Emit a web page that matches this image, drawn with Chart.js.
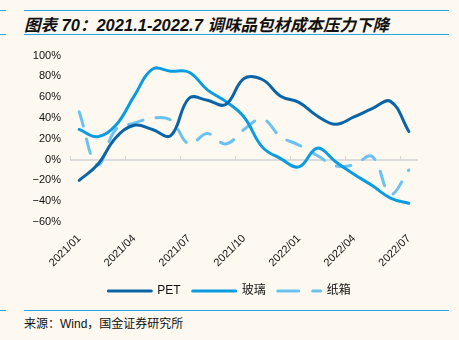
<!DOCTYPE html>
<html>
<head>
<meta charset="utf-8">
<script src="https://cdn.jsdelivr.net/npm/chart.js@4"></script>
<style>
  body { margin: 0; width: 459px; height: 340px; background: #fdf9f0; position: relative; overflow: hidden; font-family: "Liberation Sans", "Noto Sans CJK SC", sans-serif; }
  .rule { position: absolute; height: 1px; background: #2ba6e8; }
  #title { position: absolute; left: 24px; top: 12px; font-size: 16.5px; font-weight: bold; font-style: italic; color: #111; white-space: nowrap; }
  #source { position: absolute; left: 24px; top: 314px; font-size: 12px; color: #111; white-space: nowrap; }
  #wrap { position: absolute; left: 0; top: 40px; width: 459px; height: 270px; }
</style>
</head>
<body>
<div class="rule" style="left:0;width:6px;top:10px"></div>
<div class="rule" style="left:24px;width:425px;top:10px"></div>
<div id="title">图表 70：2021.1-2022.7 调味品包材成本压力下降</div>
<div class="rule" style="left:0;width:6px;top:34px"></div>
<div class="rule" style="left:24px;width:425px;top:34px"></div>
<div id="wrap"><canvas id="chart"></canvas></div>
<div class="rule" style="left:0;width:6px;top:310px"></div>
<div class="rule" style="left:24px;width:425px;top:310px"></div>
<div id="source">来源：Wind，国金证券研究所</div>

<script>
const months = ['2021/01', '2021/02', '2021/03', '2021/04', '2021/05', '2021/06', '2021/07', '2021/08', '2021/09', '2021/10',
  '2021/11', '2021/12', '2022/01', '2022/02', '2022/03', '2022/04', '2022/05', '2022/06', '2022/07'];
const pet = [-20, -5, 21, 33, 29, 23, 59, 57, 53, 78, 77, 61, 55, 42, 34, 41, 49, 56, 27];
const glass = [29, 22, 33, 61, 87, 85, 84, 67, 56, 41, 12, 1, -7, 11, -2, -14, -25, -37, -42];
const carton = [46, -5, 29, 35, 40, 38, 15, 25, 15, 29, 39, 22, 14, 4, -6, -5, 3, -33, -10];

const font = { family: '"Liberation Sans", "Noto Sans CJK SC", sans-serif', size: 11 };

function pct(v) {
  return (v < 0 ? '\u2212' + (-v) : v) + '%';
}

// small tick marks on the zero line, at the quarter boundaries
const zeroTicks = {
  id: 'zeroTicks',
  beforeDatasetsDraw(chart) {
    const x = chart.scales.x, y = chart.scales.y, ctx = chart.ctx;
    const half = (x.getPixelForValue(1) - x.getPixelForValue(0)) / 2;
    const y0 = Math.round(y.getPixelForValue(0));
    ctx.save();
    ctx.strokeStyle = '#d6d6d6';
    ctx.lineWidth = 1;
    for (let i = 0; i < months.length; i += 3) {
      const px = Math.round(x.getPixelForValue(i) - half) + 0.5;
      ctx.beginPath();
      ctx.moveTo(px, y0 - 4);
      ctx.lineTo(px, y0);
      ctx.stroke();
    }
    ctx.restore();
  }
};

new Chart(document.getElementById('chart'), {
  type: 'line',
  data: {
    labels: months,
    datasets: [
      { label: 'PET', data: pet, borderColor: '#0a64a8', backgroundColor: '#0a64a8', borderWidth: 3, pointRadius: 0, tension: 0.4, borderCapStyle: 'round' },
      { label: '玻璃', data: glass, borderColor: '#0a9be0', backgroundColor: '#0a9be0', borderWidth: 3, pointRadius: 0, tension: 0.4, borderCapStyle: 'round' },
      { label: '纸箱', data: carton, borderColor: '#6bc2f0', backgroundColor: '#6bc2f0', borderWidth: 3, pointRadius: 0, tension: 0.4, borderCapStyle: 'round', borderDash: [15, 13] }
    ]
  },
  plugins: [zeroTicks],
  options: {
    responsive: true,
    maintainAspectRatio: false,
    animation: false,
    layout: { padding: { left: 0, right: 0, top: 14, bottom: 3 } },
    plugins: {
      tooltip: { enabled: false },
      legend: {
        position: 'bottom',
        labels: {
          usePointStyle: true,
          pointStyle: 'line',
          pointStyleWidth: 43,
          boxHeight: 12,
          padding: 12,
          color: '#111',
          font: { family: font.family, size: 12 },
          generateLabels(chart) {
            return chart.data.datasets.map((ds, i) => ({
              text: ds.label,
              datasetIndex: i,
              strokeStyle: ds.borderColor,
              fillStyle: ds.borderColor,
              lineWidth: 3,
              lineCap: 'round',
              lineDash: ds.borderDash ? [21, 14] : [],
              pointStyle: 'line',
              fontColor: '#111',
              hidden: false
            }));
          }
        }
      }
    },
    scales: {
      x: {
        offset: true,
        grid: { display: false, offset: true },
        border: { display: false },
        ticks: {
          autoSkip: false,
          maxRotation: 45,
          minRotation: 45,
          padding: 2,
          color: '#111',
          font: font,
          callback(v, i) { return i % 3 === 0 ? months[i] : ''; }
        },
        afterFit(scale) { scale.height = 51; }
      },
      y: {
        min: -60,
        max: 100,
        grid: {
          display: true,
          drawTicks: false,
          lineWidth: 2,
          color: ctx => ctx.tick && ctx.tick.value === 0 ? '#dcdcdc' : 'rgba(0,0,0,0)'
        },
        border: { display: false },
        ticks: { stepSize: 20, padding: 9, color: '#111', font: font, callback: v => pct(v) },
        afterFit(scale) { scale.width = 70; }
      },
      yR: {
        type: 'linear',
        position: 'right',
        display: true,
        grid: { display: false },
        border: { display: false },
        ticks: { display: false },
        afterFit(scale) { scale.width = 41; }
      }
    }
  }
});
</script>
</body>
</html>
